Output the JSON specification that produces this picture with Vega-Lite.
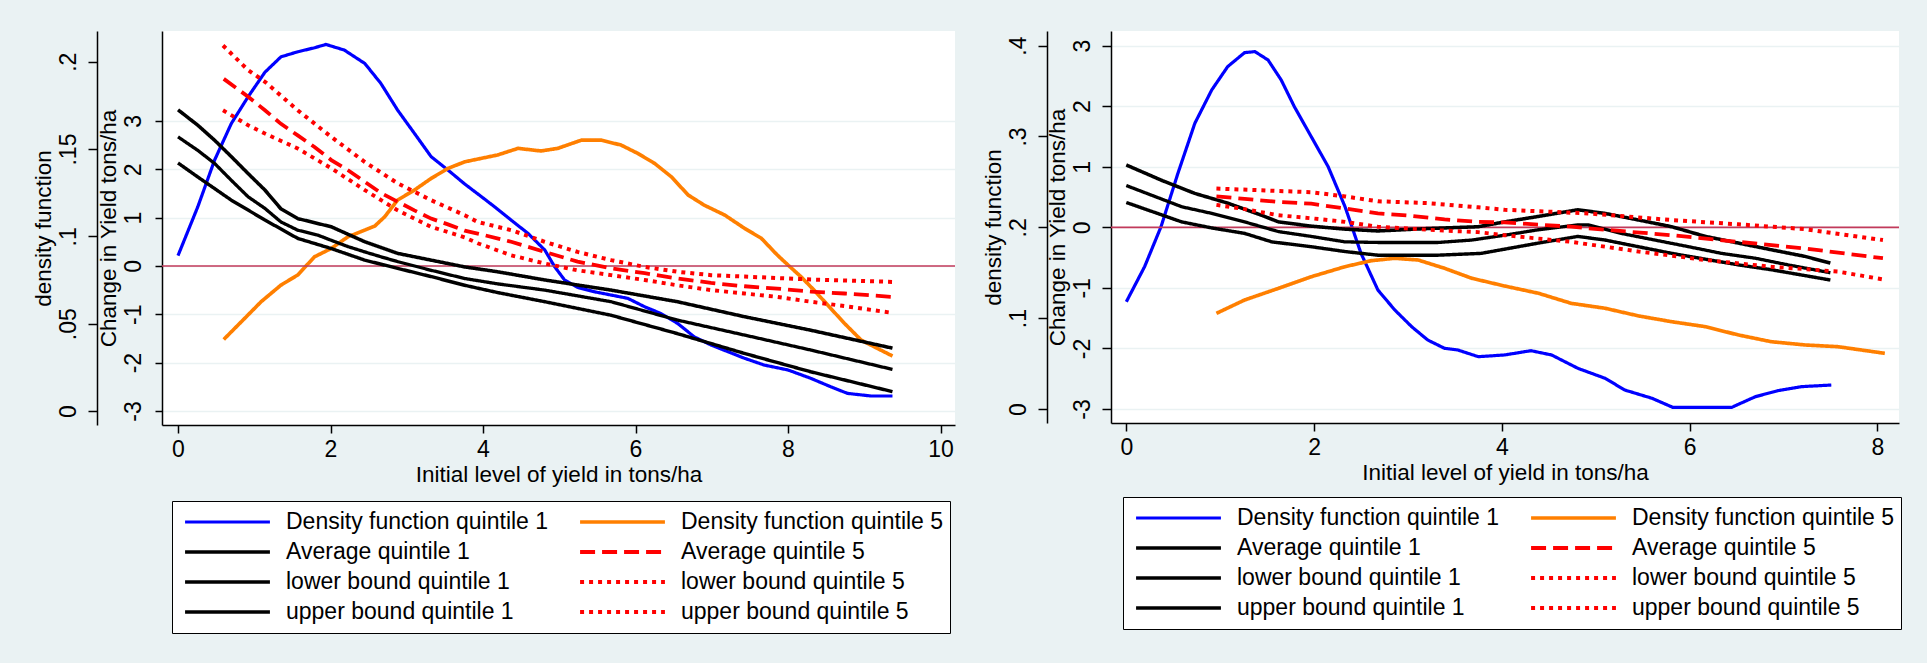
{
  "$schema": "https://vega.github.io/schema/vega-lite/v6.json",
  "background": "#eaf2f3",
  "padding": {"left": 32, "top": 31, "right": 26, "bottom": 30},
  "config": {
    "font": "Liberation Sans",
    "view": {"fill": "white", "stroke": null},
    "axis": {"domainColor": "black", "tickColor": "black", "labelColor": "black", "titleColor": "black", "labelFontSize": 23, "titleFontSize": 22.5, "titleFontWeight": "normal", "domainWidth": 1.5, "tickWidth": 1.5, "labelFont": "Liberation Sans", "titleFont": "Liberation Sans"},
    "legend": {"orient": "none", "legendX": 10, "legendY": 470, "columns": 2, "symbolType": "stroke", "symbolSize": 7200, "clipHeight": 30, "labelFontSize": 23, "labelFont": "Liberation Sans", "labelOffset": 14, "columnPadding": 24, "rowPadding": 0, "padding": 6, "fillColor": "white", "strokeColor": "black", "labelColor": "black", "labelLimit": 0, "symbolOffset": 5}
  },
  "datasets": {
    "p1": [
      {"s":"Density function quintile 1","x":0.0,"y":0.089},{"s":"Density function quintile 1","x":0.26,"y":0.117},{"s":"Density function quintile 1","x":0.48,"y":0.1437},{"s":"Density function quintile 1","x":0.70,"y":0.1647},{"s":"Density function quintile 1","x":0.92,"y":0.180},{"s":"Density function quintile 1","x":1.14,"y":0.194},{"s":"Density function quintile 1","x":1.35,"y":0.2028},{"s":"Density function quintile 1","x":1.57,"y":0.2057},{"s":"Density function quintile 1","x":1.79,"y":0.208},{"s":"Density function quintile 1","x":1.94,"y":0.2099},{"s":"Density function quintile 1","x":2.18,"y":0.2067},{"s":"Density function quintile 1","x":2.45,"y":0.199},{"s":"Density function quintile 1","x":2.66,"y":0.1876},{"s":"Density function quintile 1","x":2.88,"y":0.1723},{"s":"Density function quintile 1","x":3.10,"y":0.159},{"s":"Density function quintile 1","x":3.32,"y":0.1456},{"s":"Density function quintile 1","x":3.54,"y":0.138},{"s":"Density function quintile 1","x":3.76,"y":0.130},{"s":"Density function quintile 1","x":3.98,"y":0.1227},{"s":"Density function quintile 1","x":4.15,"y":0.117},{"s":"Density function quintile 1","x":4.37,"y":0.1093},{"s":"Density function quintile 1","x":4.59,"y":0.1017},{"s":"Density function quintile 1","x":4.81,"y":0.0922},{"s":"Density function quintile 1","x":4.94,"y":0.0826},{"s":"Density function quintile 1","x":5.07,"y":0.075},{"s":"Density function quintile 1","x":5.24,"y":0.0708},{"s":"Density function quintile 1","x":5.46,"y":0.0683},{"s":"Density function quintile 1","x":5.68,"y":0.0664},{"s":"Density function quintile 1","x":5.90,"y":0.0645},{"s":"Density function quintile 1","x":6.12,"y":0.0597},{"s":"Density function quintile 1","x":6.33,"y":0.0559},{"s":"Density function quintile 1","x":6.55,"y":0.0502},{"s":"Density function quintile 1","x":6.77,"y":0.0425},{"s":"Density function quintile 1","x":6.99,"y":0.0378},{"s":"Density function quintile 1","x":7.21,"y":0.034},{"s":"Density function quintile 1","x":7.43,"y":0.0302},{"s":"Density function quintile 1","x":7.69,"y":0.0263},{"s":"Density function quintile 1","x":8.0,"y":0.0235},{"s":"Density function quintile 1","x":8.30,"y":0.0187},{"s":"Density function quintile 1","x":8.56,"y":0.0139},{"s":"Density function quintile 1","x":8.78,"y":0.0101},{"s":"Density function quintile 1","x":9.09,"y":0.0086},{"s":"Density function quintile 1","x":9.37,"y":0.0086},
      {"s":"Density function quintile 5","x":0.60,"y":0.041},{"s":"Density function quintile 5","x":0.83,"y":0.0511},{"s":"Density function quintile 5","x":1.09,"y":0.0626},{"s":"Density function quintile 5","x":1.35,"y":0.0721},{"s":"Density function quintile 5","x":1.57,"y":0.0779},{"s":"Density function quintile 5","x":1.79,"y":0.0883},{"s":"Density function quintile 5","x":2.01,"y":0.0931},{"s":"Density function quintile 5","x":2.23,"y":0.0998},{"s":"Density function quintile 5","x":2.45,"y":0.1036},{"s":"Density function quintile 5","x":2.58,"y":0.1059},{"s":"Density function quintile 5","x":2.71,"y":0.1112},{"s":"Density function quintile 5","x":2.88,"y":0.1208},{"s":"Density function quintile 5","x":3.10,"y":0.1265},{"s":"Density function quintile 5","x":3.32,"y":0.1332},{"s":"Density function quintile 5","x":3.54,"y":0.1389},{"s":"Density function quintile 5","x":3.76,"y":0.1427},{"s":"Density function quintile 5","x":3.98,"y":0.1447},{"s":"Density function quintile 5","x":4.19,"y":0.1466},{"s":"Density function quintile 5","x":4.46,"y":0.1504},{"s":"Density function quintile 5","x":4.76,"y":0.1489},{"s":"Density function quintile 5","x":4.98,"y":0.1504},{"s":"Density function quintile 5","x":5.29,"y":0.1551},{"s":"Density function quintile 5","x":5.55,"y":0.1551},{"s":"Density function quintile 5","x":5.81,"y":0.1523},{"s":"Density function quintile 5","x":6.03,"y":0.1475},{"s":"Density function quintile 5","x":6.25,"y":0.1418},{"s":"Density function quintile 5","x":6.47,"y":0.1341},{"s":"Density function quintile 5","x":6.69,"y":0.1237},{"s":"Density function quintile 5","x":6.90,"y":0.1179},{"s":"Density function quintile 5","x":7.17,"y":0.1122},{"s":"Density function quintile 5","x":7.43,"y":0.1046},{"s":"Density function quintile 5","x":7.65,"y":0.0989},{"s":"Density function quintile 5","x":7.86,"y":0.0893},{"s":"Density function quintile 5","x":8.0,"y":0.0836},{"s":"Density function quintile 5","x":8.17,"y":0.0769},{"s":"Density function quintile 5","x":8.34,"y":0.0693},{"s":"Density function quintile 5","x":8.52,"y":0.0607},{"s":"Density function quintile 5","x":8.74,"y":0.0502},{"s":"Density function quintile 5","x":8.96,"y":0.0406},{"s":"Density function quintile 5","x":9.17,"y":0.0359},{"s":"Density function quintile 5","x":9.37,"y":0.0315},
      {"s":"Average quintile 1","x":0.0,"y":2.67},{"s":"Average quintile 1","x":0.26,"y":2.39},{"s":"Average quintile 1","x":0.48,"y":2.12},{"s":"Average quintile 1","x":0.70,"y":1.77},{"s":"Average quintile 1","x":0.92,"y":1.43},{"s":"Average quintile 1","x":1.14,"y":1.19},{"s":"Average quintile 1","x":1.35,"y":0.91},{"s":"Average quintile 1","x":1.57,"y":0.74},{"s":"Average quintile 1","x":1.83,"y":0.64},{"s":"Average quintile 1","x":2.01,"y":0.53},{"s":"Average quintile 1","x":2.23,"y":0.40},{"s":"Average quintile 1","x":2.45,"y":0.29},{"s":"Average quintile 1","x":2.66,"y":0.19},{"s":"Average quintile 1","x":2.88,"y":0.09},{"s":"Average quintile 1","x":3.32,"y":-0.09},{"s":"Average quintile 1","x":3.76,"y":-0.26},{"s":"Average quintile 1","x":4.19,"y":-0.37},{"s":"Average quintile 1","x":4.81,"y":-0.50},{"s":"Average quintile 1","x":5.68,"y":-0.74},{"s":"Average quintile 1","x":6.55,"y":-1.12},{"s":"Average quintile 1","x":7.43,"y":-1.43},{"s":"Average quintile 1","x":8.30,"y":-1.74},{"s":"Average quintile 1","x":9.37,"y":-2.14},
      {"s":"upper bound quintile 1","x":0.0,"y":3.23},{"s":"upper bound quintile 1","x":0.26,"y":2.91},{"s":"upper bound quintile 1","x":0.48,"y":2.60},{"s":"upper bound quintile 1","x":0.70,"y":2.26},{"s":"upper bound quintile 1","x":0.92,"y":1.91},{"s":"upper bound quintile 1","x":1.14,"y":1.57},{"s":"upper bound quintile 1","x":1.35,"y":1.18},{"s":"upper bound quintile 1","x":1.57,"y":0.98},{"s":"upper bound quintile 1","x":2.01,"y":0.81},{"s":"upper bound quintile 1","x":2.45,"y":0.50},{"s":"upper bound quintile 1","x":2.88,"y":0.26},{"s":"upper bound quintile 1","x":3.32,"y":0.12},{"s":"upper bound quintile 1","x":3.76,"y":-0.02},{"s":"upper bound quintile 1","x":4.19,"y":-0.12},{"s":"upper bound quintile 1","x":4.81,"y":-0.29},{"s":"upper bound quintile 1","x":5.68,"y":-0.50},{"s":"upper bound quintile 1","x":6.55,"y":-0.74},{"s":"upper bound quintile 1","x":7.43,"y":-1.05},{"s":"upper bound quintile 1","x":8.30,"y":-1.33},{"s":"upper bound quintile 1","x":9.37,"y":-1.70},
      {"s":"lower bound quintile 1","x":0.0,"y":2.13},{"s":"lower bound quintile 1","x":0.26,"y":1.84},{"s":"lower bound quintile 1","x":0.70,"y":1.36},{"s":"lower bound quintile 1","x":1.14,"y":0.95},{"s":"lower bound quintile 1","x":1.57,"y":0.57},{"s":"lower bound quintile 1","x":2.01,"y":0.36},{"s":"lower bound quintile 1","x":2.45,"y":0.12},{"s":"lower bound quintile 1","x":2.88,"y":-0.05},{"s":"lower bound quintile 1","x":3.32,"y":-0.22},{"s":"lower bound quintile 1","x":3.76,"y":-0.40},{"s":"lower bound quintile 1","x":4.19,"y":-0.55},{"s":"lower bound quintile 1","x":4.81,"y":-0.74},{"s":"lower bound quintile 1","x":5.68,"y":-1.02},{"s":"lower bound quintile 1","x":6.55,"y":-1.40},{"s":"lower bound quintile 1","x":7.43,"y":-1.81},{"s":"lower bound quintile 1","x":8.30,"y":-2.19},{"s":"lower bound quintile 1","x":9.37,"y":-2.60},
      {"s":"Average quintile 5","x":0.60,"y":3.87},{"s":"Average quintile 5","x":0.92,"y":3.50},{"s":"Average quintile 5","x":1.14,"y":3.22},{"s":"Average quintile 5","x":1.35,"y":2.94},{"s":"Average quintile 5","x":1.57,"y":2.70},{"s":"Average quintile 5","x":1.79,"y":2.46},{"s":"Average quintile 5","x":2.01,"y":2.19},{"s":"Average quintile 5","x":2.23,"y":1.98},{"s":"Average quintile 5","x":2.45,"y":1.74},{"s":"Average quintile 5","x":2.66,"y":1.51},{"s":"Average quintile 5","x":2.88,"y":1.33},{"s":"Average quintile 5","x":3.10,"y":1.15},{"s":"Average quintile 5","x":3.32,"y":0.98},{"s":"Average quintile 5","x":3.54,"y":0.86},{"s":"Average quintile 5","x":3.76,"y":0.73},{"s":"Average quintile 5","x":3.93,"y":0.67},{"s":"Average quintile 5","x":4.37,"y":0.50},{"s":"Average quintile 5","x":4.81,"y":0.29},{"s":"Average quintile 5","x":5.24,"y":0.09},{"s":"Average quintile 5","x":5.68,"y":-0.05},{"s":"Average quintile 5","x":6.12,"y":-0.15},{"s":"Average quintile 5","x":6.55,"y":-0.26},{"s":"Average quintile 5","x":6.99,"y":-0.35},{"s":"Average quintile 5","x":7.43,"y":-0.42},{"s":"Average quintile 5","x":7.86,"y":-0.47},{"s":"Average quintile 5","x":8.30,"y":-0.53},{"s":"Average quintile 5","x":8.74,"y":-0.57},{"s":"Average quintile 5","x":9.37,"y":-0.64},
      {"s":"upper bound quintile 5","x":0.59,"y":4.56},{"s":"upper bound quintile 5","x":0.92,"y":4.05},{"s":"upper bound quintile 5","x":1.14,"y":3.81},{"s":"upper bound quintile 5","x":1.57,"y":3.22},{"s":"upper bound quintile 5","x":2.01,"y":2.67},{"s":"upper bound quintile 5","x":2.45,"y":2.15},{"s":"upper bound quintile 5","x":2.88,"y":1.71},{"s":"upper bound quintile 5","x":3.32,"y":1.36},{"s":"upper bound quintile 5","x":3.76,"y":1.05},{"s":"upper bound quintile 5","x":3.93,"y":0.91},{"s":"upper bound quintile 5","x":4.37,"y":0.74},{"s":"upper bound quintile 5","x":4.81,"y":0.50},{"s":"upper bound quintile 5","x":5.24,"y":0.29},{"s":"upper bound quintile 5","x":5.68,"y":0.12},{"s":"upper bound quintile 5","x":6.12,"y":-0.02},{"s":"upper bound quintile 5","x":6.55,"y":-0.12},{"s":"upper bound quintile 5","x":6.99,"y":-0.19},{"s":"upper bound quintile 5","x":7.43,"y":-0.22},{"s":"upper bound quintile 5","x":8.30,"y":-0.28},{"s":"upper bound quintile 5","x":9.37,"y":-0.33},
      {"s":"lower bound quintile 5","x":0.59,"y":3.22},{"s":"lower bound quintile 5","x":0.92,"y":2.91},{"s":"lower bound quintile 5","x":1.14,"y":2.74},{"s":"lower bound quintile 5","x":1.57,"y":2.43},{"s":"lower bound quintile 5","x":2.01,"y":2.02},{"s":"lower bound quintile 5","x":2.45,"y":1.57},{"s":"lower bound quintile 5","x":2.88,"y":1.15},{"s":"lower bound quintile 5","x":3.32,"y":0.81},{"s":"lower bound quintile 5","x":3.76,"y":0.59},{"s":"lower bound quintile 5","x":3.93,"y":0.47},{"s":"lower bound quintile 5","x":4.37,"y":0.22},{"s":"lower bound quintile 5","x":4.81,"y":0.05},{"s":"lower bound quintile 5","x":5.24,"y":-0.09},{"s":"lower bound quintile 5","x":5.68,"y":-0.19},{"s":"lower bound quintile 5","x":6.12,"y":-0.29},{"s":"lower bound quintile 5","x":6.55,"y":-0.40},{"s":"lower bound quintile 5","x":6.99,"y":-0.50},{"s":"lower bound quintile 5","x":7.43,"y":-0.57},{"s":"lower bound quintile 5","x":7.86,"y":-0.64},{"s":"lower bound quintile 5","x":8.30,"y":-0.74},{"s":"lower bound quintile 5","x":8.74,"y":-0.83},{"s":"lower bound quintile 5","x":9.37,"y":-0.97}
    ],
    "p2": [
      {"s":"Density function quintile 1","x":0.0,"y":0.118},{"s":"Density function quintile 1","x":0.195,"y":0.1567},{"s":"Density function quintile 1","x":0.37,"y":0.2007},{"s":"Density function quintile 1","x":0.55,"y":0.2595},{"s":"Density function quintile 1","x":0.73,"y":0.3145},{"s":"Density function quintile 1","x":0.91,"y":0.3512},{"s":"Density function quintile 1","x":1.08,"y":0.3769},{"s":"Density function quintile 1","x":1.26,"y":0.3923},{"s":"Density function quintile 1","x":1.37,"y":0.3934},{"s":"Density function quintile 1","x":1.51,"y":0.3842},{"s":"Density function quintile 1","x":1.65,"y":0.3622},{"s":"Density function quintile 1","x":1.79,"y":0.3328},{"s":"Density function quintile 1","x":1.97,"y":0.2998},{"s":"Density function quintile 1","x":2.15,"y":0.2668},{"s":"Density function quintile 1","x":2.33,"y":0.2227},{"s":"Density function quintile 1","x":2.50,"y":0.1714},{"s":"Density function quintile 1","x":2.68,"y":0.131},{"s":"Density function quintile 1","x":2.86,"y":0.109},{"s":"Density function quintile 1","x":3.04,"y":0.0906},{"s":"Density function quintile 1","x":3.21,"y":0.076},{"s":"Density function quintile 1","x":3.39,"y":0.0668},{"s":"Density function quintile 1","x":3.53,"y":0.065},{"s":"Density function quintile 1","x":3.75,"y":0.0576},{"s":"Density function quintile 1","x":4.03,"y":0.0595},{"s":"Density function quintile 1","x":4.31,"y":0.0642},{"s":"Density function quintile 1","x":4.53,"y":0.0595},{"s":"Density function quintile 1","x":4.81,"y":0.0448},{"s":"Density function quintile 1","x":5.10,"y":0.0338},{"s":"Density function quintile 1","x":5.31,"y":0.0209},{"s":"Density function quintile 1","x":5.60,"y":0.0118},{"s":"Density function quintile 1","x":5.82,"y":0.0019},{"s":"Density function quintile 1","x":6.45,"y":0.0019},{"s":"Density function quintile 1","x":6.70,"y":0.0135},{"s":"Density function quintile 1","x":6.94,"y":0.0202},{"s":"Density function quintile 1","x":7.19,"y":0.0246},{"s":"Density function quintile 1","x":7.51,"y":0.0264},
      {"s":"Density function quintile 5","x":0.96,"y":0.1053},{"s":"Density function quintile 5","x":1.26,"y":0.12},{"s":"Density function quintile 5","x":1.62,"y":0.1328},{"s":"Density function quintile 5","x":1.97,"y":0.1456},{"s":"Density function quintile 5","x":2.33,"y":0.1567},{"s":"Density function quintile 5","x":2.61,"y":0.1633},{"s":"Density function quintile 5","x":2.86,"y":0.1659},{"s":"Density function quintile 5","x":3.11,"y":0.164},{"s":"Density function quintile 5","x":3.39,"y":0.1549},{"s":"Density function quintile 5","x":3.68,"y":0.1439},{"s":"Density function quintile 5","x":4.03,"y":0.1354},{"s":"Density function quintile 5","x":4.39,"y":0.1274},{"s":"Density function quintile 5","x":4.74,"y":0.1163},{"s":"Density function quintile 5","x":5.10,"y":0.1109},{"s":"Density function quintile 5","x":5.46,"y":0.1024},{"s":"Density function quintile 5","x":5.81,"y":0.0961},{"s":"Density function quintile 5","x":6.17,"y":0.0906},{"s":"Density function quintile 5","x":6.52,"y":0.0815},{"s":"Density function quintile 5","x":6.87,"y":0.0741},{"s":"Density function quintile 5","x":7.23,"y":0.0705},{"s":"Density function quintile 5","x":7.58,"y":0.0686},{"s":"Density function quintile 5","x":8.08,"y":0.0613},
      {"s":"Average quintile 1","x":0.0,"y":0.69},{"s":"Average quintile 1","x":0.27,"y":0.53},{"s":"Average quintile 1","x":0.59,"y":0.34},{"s":"Average quintile 1","x":0.91,"y":0.23},{"s":"Average quintile 1","x":1.26,"y":0.09},{"s":"Average quintile 1","x":1.62,"y":-0.07},{"s":"Average quintile 1","x":1.97,"y":-0.15},{"s":"Average quintile 1","x":2.33,"y":-0.24},{"s":"Average quintile 1","x":2.68,"y":-0.25},{"s":"Average quintile 1","x":3.32,"y":-0.25},{"s":"Average quintile 1","x":3.68,"y":-0.21},{"s":"Average quintile 1","x":4.03,"y":-0.13},{"s":"Average quintile 1","x":4.39,"y":-0.04},{"s":"Average quintile 1","x":4.81,"y":0.04},{"s":"Average quintile 1","x":4.92,"y":0.04},{"s":"Average quintile 1","x":5.27,"y":-0.10},{"s":"Average quintile 1","x":5.63,"y":-0.21},{"s":"Average quintile 1","x":5.99,"y":-0.32},{"s":"Average quintile 1","x":6.34,"y":-0.43},{"s":"Average quintile 1","x":6.70,"y":-0.51},{"s":"Average quintile 1","x":7.05,"y":-0.62},{"s":"Average quintile 1","x":7.50,"y":-0.75},
      {"s":"upper bound quintile 1","x":0.0,"y":1.03},{"s":"upper bound quintile 1","x":0.37,"y":0.78},{"s":"upper bound quintile 1","x":0.73,"y":0.56},{"s":"upper bound quintile 1","x":1.08,"y":0.40},{"s":"upper bound quintile 1","x":1.44,"y":0.20},{"s":"upper bound quintile 1","x":1.62,"y":0.09},{"s":"upper bound quintile 1","x":1.97,"y":0.02},{"s":"upper bound quintile 1","x":2.33,"y":-0.03},{"s":"upper bound quintile 1","x":2.68,"y":-0.06},{"s":"upper bound quintile 1","x":3.21,"y":-0.02},{"s":"upper bound quintile 1","x":3.75,"y":0.01},{"s":"upper bound quintile 1","x":4.03,"y":0.09},{"s":"upper bound quintile 1","x":4.39,"y":0.18},{"s":"upper bound quintile 1","x":4.81,"y":0.29},{"s":"upper bound quintile 1","x":5.10,"y":0.23},{"s":"upper bound quintile 1","x":5.46,"y":0.12},{"s":"upper bound quintile 1","x":5.81,"y":0.01},{"s":"upper bound quintile 1","x":6.17,"y":-0.15},{"s":"upper bound quintile 1","x":6.52,"y":-0.26},{"s":"upper bound quintile 1","x":6.87,"y":-0.37},{"s":"upper bound quintile 1","x":7.23,"y":-0.48},{"s":"upper bound quintile 1","x":7.50,"y":-0.59},
      {"s":"lower bound quintile 1","x":0.0,"y":0.41},{"s":"lower bound quintile 1","x":0.59,"y":0.09},{"s":"lower bound quintile 1","x":0.91,"y":-0.01},{"s":"lower bound quintile 1","x":1.26,"y":-0.10},{"s":"lower bound quintile 1","x":1.55,"y":-0.24},{"s":"lower bound quintile 1","x":1.97,"y":-0.32},{"s":"lower bound quintile 1","x":2.33,"y":-0.40},{"s":"lower bound quintile 1","x":2.68,"y":-0.46},{"s":"lower bound quintile 1","x":3.32,"y":-0.46},{"s":"lower bound quintile 1","x":3.78,"y":-0.43},{"s":"lower bound quintile 1","x":4.39,"y":-0.26},{"s":"lower bound quintile 1","x":4.81,"y":-0.15},{"s":"lower bound quintile 1","x":5.10,"y":-0.21},{"s":"lower bound quintile 1","x":5.81,"y":-0.43},{"s":"lower bound quintile 1","x":6.52,"y":-0.62},{"s":"lower bound quintile 1","x":6.87,"y":-0.70},{"s":"lower bound quintile 1","x":7.50,"y":-0.87},
      {"s":"Average quintile 5","x":0.96,"y":0.51},{"s":"Average quintile 5","x":1.26,"y":0.47},{"s":"Average quintile 5","x":1.62,"y":0.42},{"s":"Average quintile 5","x":1.97,"y":0.39},{"s":"Average quintile 5","x":2.33,"y":0.31},{"s":"Average quintile 5","x":2.68,"y":0.23},{"s":"Average quintile 5","x":3.04,"y":0.19},{"s":"Average quintile 5","x":3.39,"y":0.13},{"s":"Average quintile 5","x":3.75,"y":0.09},{"s":"Average quintile 5","x":4.03,"y":0.08},{"s":"Average quintile 5","x":4.74,"y":0.01},{"s":"Average quintile 5","x":5.10,"y":-0.04},{"s":"Average quintile 5","x":5.81,"y":-0.13},{"s":"Average quintile 5","x":6.52,"y":-0.24},{"s":"Average quintile 5","x":7.23,"y":-0.35},{"s":"Average quintile 5","x":8.06,"y":-0.51},
      {"s":"upper bound quintile 5","x":0.96,"y":0.64},{"s":"upper bound quintile 5","x":1.97,"y":0.58},{"s":"upper bound quintile 5","x":2.33,"y":0.51},{"s":"upper bound quintile 5","x":2.68,"y":0.43},{"s":"upper bound quintile 5","x":3.21,"y":0.40},{"s":"upper bound quintile 5","x":3.75,"y":0.33},{"s":"upper bound quintile 5","x":4.03,"y":0.29},{"s":"upper bound quintile 5","x":4.92,"y":0.23},{"s":"upper bound quintile 5","x":5.81,"y":0.12},{"s":"upper bound quintile 5","x":6.52,"y":0.05},{"s":"upper bound quintile 5","x":7.23,"y":-0.03},{"s":"upper bound quintile 5","x":8.06,"y":-0.21},
      {"s":"lower bound quintile 5","x":0.96,"y":0.37},{"s":"lower bound quintile 5","x":1.26,"y":0.30},{"s":"lower bound quintile 5","x":1.62,"y":0.20},{"s":"lower bound quintile 5","x":1.97,"y":0.15},{"s":"lower bound quintile 5","x":2.33,"y":0.09},{"s":"lower bound quintile 5","x":2.68,"y":0.01},{"s":"lower bound quintile 5","x":3.21,"y":-0.04},{"s":"lower bound quintile 5","x":3.75,"y":-0.08},{"s":"lower bound quintile 5","x":4.03,"y":-0.13},{"s":"lower bound quintile 5","x":4.74,"y":-0.24},{"s":"lower bound quintile 5","x":5.46,"y":-0.40},{"s":"lower bound quintile 5","x":6.17,"y":-0.54},{"s":"lower bound quintile 5","x":6.87,"y":-0.65},{"s":"lower bound quintile 5","x":7.58,"y":-0.73},{"s":"lower bound quintile 5","x":8.06,"y":-0.86}
    ]
  },
  "hconcat": [
    {
      "width": 793, "height": 394,
      "data": {"name": "p1"},
      "layer": [
        {
          "transform": [{"filter": "indexof(datum.s, 'Density') == 0"}],
          "mark": {"type": "line", "strokeCap": "butt"},
          "encoding": {
            "x": {"field": "x", "type": "quantitative", "scale": {"domain": [-0.21, 10.19], "nice": false, "zero": false}, "axis": {"values": [0,2,4,6,8,10], "labelExpr": "'' + datum.value", "title": "Initial level of yield in tons/ha", "tickSize": 8, "labelPadding": 5, "titlePadding": 2, "grid": false}},
            "y": {"field": "y", "type": "quantitative", "scale": {"domain": [-0.008, 0.2176], "nice": false, "zero": false}, "axis": {"orient": "left", "offset": 65, "values": [0,0.05,0.1,0.15,0.2], "labelExpr": "datum.value == 0 ? '0' : replace(format(datum.value, '.2~f'), '0.', '.')", "title": "density function", "grid": false, "labelAngle": -90, "labelAlign": "center", "labelBaseline": "bottom", "tickSize": 9, "labelPadding": 8, "titlePadding": 2}},
            "color": {"field": "s", "type": "nominal", "scale": {"domain": ["Density function quintile 1","Average quintile 1","lower bound quintile 1","upper bound quintile 1","Density function quintile 5","Average quintile 5","lower bound quintile 5","upper bound quintile 5"], "range": ["#0000ff","#000000","#000000","#000000","#ff7f00","#ff0000","#ff0000","#ff0000"]}, "legend": {"title": null, "symbolStrokeWidth": {"expr": "indexof(datum.value, 'bound') >= 0 ? 1.3 : (indexof(datum.value, 'Average') == 0 ? 4 : 3.2)"}}},
            "strokeDash": {"field": "s", "type": "nominal", "scale": {"domain": ["Density function quintile 1","Average quintile 1","lower bound quintile 1","upper bound quintile 1","Density function quintile 5","Average quintile 5","lower bound quintile 5","upper bound quintile 5"], "range": [[1,0],[1,0],[1,0],[1,0],[1,0],[15,7],[4,5],[4,5]]}, "legend": {"title": null}},
            "strokeWidth": {"field": "s", "type": "nominal", "scale": {"domain": ["Density function quintile 1","Average quintile 1","lower bound quintile 1","upper bound quintile 1","Density function quintile 5","Average quintile 5","lower bound quintile 5","upper bound quintile 5"], "range": [3.2,4,1.3,1.3,3.2,4,1.3,1.3]}, "legend": null}
          }
        },
        {
          "layer": [
            {
              "data": {"values": [{"y": 0}]},
              "mark": {"type": "rule", "color": "#c23a5b", "strokeWidth": 1.6},
              "encoding": {"y": {"field": "y", "type": "quantitative", "scale": {"domain": [-3.29, 4.86], "nice": false, "zero": false}}}
            },
            {
              "transform": [{"filter": "indexof(datum.s, 'Density') != 0"}],
              "mark": {"type": "line", "strokeCap": "butt"},
              "encoding": {
                "x": {"field": "x", "type": "quantitative", "scale": {"domain": [-0.21, 10.19], "nice": false, "zero": false}},
                "y": {"field": "y", "type": "quantitative", "scale": {"domain": [-3.29, 4.86], "nice": false, "zero": false}, "axis": {"orient": "left", "values": [-3,-2,-1,0,1,2,3], "labelExpr": "'' + datum.value", "title": "Change in Yield tons/ha", "grid": true, "gridColor": "#eaf2f3", "gridWidth": 1.5, "labelAngle": -90, "labelAlign": "center", "labelBaseline": "bottom", "tickSize": 7, "labelPadding": 10, "titlePadding": 2}},
                "color": {"field": "s", "type": "nominal", "scale": {"domain": ["Density function quintile 1","Average quintile 1","lower bound quintile 1","upper bound quintile 1","Density function quintile 5","Average quintile 5","lower bound quintile 5","upper bound quintile 5"], "range": ["#0000ff","#000000","#000000","#000000","#ff7f00","#ff0000","#ff0000","#ff0000"]}, "legend": {"title": null, "symbolStrokeWidth": {"expr": "indexof(datum.value, 'bound') >= 0 ? 1.3 : (indexof(datum.value, 'Average') == 0 ? 4 : 3.2)"}}},
                "strokeDash": {"field": "s", "type": "nominal", "scale": {"domain": ["Density function quintile 1","Average quintile 1","lower bound quintile 1","upper bound quintile 1","Density function quintile 5","Average quintile 5","lower bound quintile 5","upper bound quintile 5"], "range": [[1,0],[1,0],[1,0],[1,0],[1,0],[15,7],[4,5],[4,5]]}, "legend": {"title": null}},
                "strokeWidth": {"field": "s", "type": "nominal", "scale": {"domain": ["Density function quintile 1","Average quintile 1","lower bound quintile 1","upper bound quintile 1","Density function quintile 5","Average quintile 5","lower bound quintile 5","upper bound quintile 5"], "range": [3.2,4,1.3,1.3,3.2,4,1.3,1.3]}, "legend": null}
              }
            }
          ]
        }
      ],
      "resolve": {"scale": {"y": "independent"}, "axis": {"y": "independent"}}
    },
    {
      "width": 788, "height": 392,
      "data": {"name": "p2"},
      "layer": [
        {
          "transform": [{"filter": "indexof(datum.s, 'Density') == 0"}],
          "mark": {"type": "line", "strokeCap": "butt"},
          "encoding": {
            "x": {"field": "x", "type": "quantitative", "scale": {"domain": [-0.163, 8.231], "nice": false, "zero": false}, "axis": {"values": [0,2,4,6,8], "labelExpr": "'' + datum.value", "title": "Initial level of yield in tons/ha", "tickSize": 8, "labelPadding": 5, "titlePadding": 2, "grid": false}},
            "y": {"field": "y", "type": "quantitative", "scale": {"domain": [-0.0154, 0.4161], "nice": false, "zero": false}, "axis": {"orient": "left", "offset": 64, "values": [0,0.1,0.2,0.3,0.4], "labelExpr": "datum.value == 0 ? '0' : replace(format(datum.value, '.2~f'), '0.', '.')", "title": "density function", "grid": false, "labelAngle": -90, "labelAlign": "center", "labelBaseline": "bottom", "tickSize": 9, "labelPadding": 8, "titlePadding": 2}},
            "color": {"field": "s", "type": "nominal", "scale": {"domain": ["Density function quintile 1","Average quintile 1","lower bound quintile 1","upper bound quintile 1","Density function quintile 5","Average quintile 5","lower bound quintile 5","upper bound quintile 5"], "range": ["#0000ff","#000000","#000000","#000000","#ff7f00","#ff0000","#ff0000","#ff0000"]}, "legend": {"title": null, "legendX": 12, "legendY": 466, "symbolStrokeWidth": {"expr": "indexof(datum.value, 'bound') >= 0 ? 1.3 : (indexof(datum.value, 'Average') == 0 ? 4 : 3.2)"}}},
            "strokeDash": {"field": "s", "type": "nominal", "scale": {"domain": ["Density function quintile 1","Average quintile 1","lower bound quintile 1","upper bound quintile 1","Density function quintile 5","Average quintile 5","lower bound quintile 5","upper bound quintile 5"], "range": [[1,0],[1,0],[1,0],[1,0],[1,0],[15,7],[4,5],[4,5]]}, "legend": {"title": null, "legendX": 12, "legendY": 466}},
            "strokeWidth": {"field": "s", "type": "nominal", "scale": {"domain": ["Density function quintile 1","Average quintile 1","lower bound quintile 1","upper bound quintile 1","Density function quintile 5","Average quintile 5","lower bound quintile 5","upper bound quintile 5"], "range": [3.2,4,1.3,1.3,3.2,4,1.3,1.3]}, "legend": null}
          }
        },
        {
          "layer": [
            {
              "data": {"values": [{"y": 0}]},
              "mark": {"type": "rule", "color": "#c23a5b", "strokeWidth": 1.6},
              "encoding": {"y": {"field": "y", "type": "quantitative", "scale": {"domain": [-3.231, 3.242], "nice": false, "zero": false}}}
            },
            {
              "transform": [{"filter": "indexof(datum.s, 'Density') != 0"}],
              "mark": {"type": "line", "strokeCap": "butt"},
              "encoding": {
                "x": {"field": "x", "type": "quantitative", "scale": {"domain": [-0.163, 8.231], "nice": false, "zero": false}},
                "y": {"field": "y", "type": "quantitative", "scale": {"domain": [-3.231, 3.242], "nice": false, "zero": false}, "axis": {"orient": "left", "values": [-3,-2,-1,0,1,2,3], "labelExpr": "'' + datum.value", "title": "Change in Yield tons/ha", "grid": true, "gridColor": "#eaf2f3", "gridWidth": 1.5, "labelAngle": -90, "labelAlign": "center", "labelBaseline": "bottom", "tickSize": 9, "labelPadding": 8, "titlePadding": 2}},
                "color": {"field": "s", "type": "nominal", "scale": {"domain": ["Density function quintile 1","Average quintile 1","lower bound quintile 1","upper bound quintile 1","Density function quintile 5","Average quintile 5","lower bound quintile 5","upper bound quintile 5"], "range": ["#0000ff","#000000","#000000","#000000","#ff7f00","#ff0000","#ff0000","#ff0000"]}, "legend": {"title": null, "legendX": 12, "legendY": 466, "symbolStrokeWidth": {"expr": "indexof(datum.value, 'bound') >= 0 ? 1.3 : (indexof(datum.value, 'Average') == 0 ? 4 : 3.2)"}}},
                "strokeDash": {"field": "s", "type": "nominal", "scale": {"domain": ["Density function quintile 1","Average quintile 1","lower bound quintile 1","upper bound quintile 1","Density function quintile 5","Average quintile 5","lower bound quintile 5","upper bound quintile 5"], "range": [[1,0],[1,0],[1,0],[1,0],[1,0],[15,7],[4,5],[4,5]]}, "legend": {"title": null, "legendX": 12, "legendY": 466}},
                "strokeWidth": {"field": "s", "type": "nominal", "scale": {"domain": ["Density function quintile 1","Average quintile 1","lower bound quintile 1","upper bound quintile 1","Density function quintile 5","Average quintile 5","lower bound quintile 5","upper bound quintile 5"], "range": [3.2,4,1.3,1.3,3.2,4,1.3,1.3]}, "legend": null}
              }
            }
          ]
        }
      ],
      "resolve": {"scale": {"y": "independent"}, "axis": {"y": "independent"}}
    }
  ],
  "spacing": 156,
  "bounds": "flush",
  "resolve": {"scale": {"color": "independent", "strokeDash": "independent", "strokeWidth": "independent"}}
}
